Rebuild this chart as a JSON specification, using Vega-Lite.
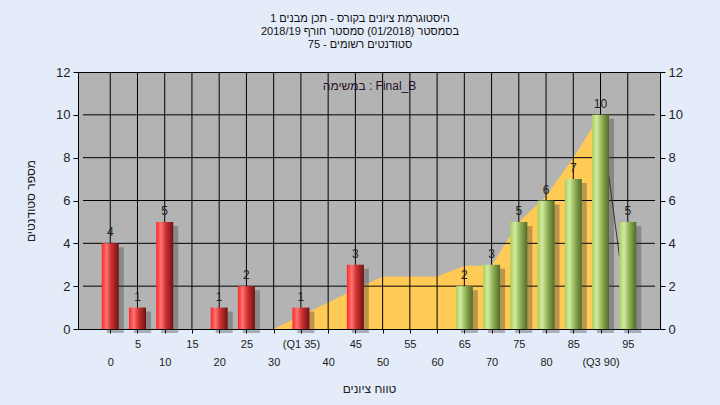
{
  "$schema": "https://vega.github.io/schema/vega-lite/v6.json",
  "width": 582,
  "height": 257,
  "autosize": {"type": "none"},
  "padding": {"left": 78, "top": 72, "right": 60, "bottom": 76},
  "background": "#e3ecf8",
  "config": {
    "view": {"fill": "#b3b3b3", "stroke": "#000000", "strokeWidth": 1},
    "font": "Liberation Sans",
    "axisX": {
      "grid": false,
      "ticks": true,
      "domain": true,
      "domainColor": "#000000",
      "tickColor": "#000000",
      "tickSize": 4,
      "labelFontSize": 11,
      "labelColor": "#222222",
      "labelPadding": 5,
      "labelLineHeight": 18,
      "labelOverlap": false,
      "labelFlush": false,
      "labelBound": false,
      "titleFontSize": 12,
      "titleFontWeight": "normal",
      "titleColor": "#222222",
      "titlePadding": 16
    }
  },
  "title": {
    "text": [
      "היסטוגרמת ציונים בקורס - תכן מבנים 1",
      "בסמסטר  (01/2018)  סמסטר חורף 2018/19",
      "סטודנטים רשומים - 75"
    ],
    "fontSize": 11,
    "fontWeight": "normal",
    "color": "#111111",
    "anchor": "middle",
    "dx": -9,
    "offset": 16,
    "lineHeight": 13
  },
  "datasets": {
    "bins": [
      {"score": 0, "count": 4},
      {"score": 5, "count": 1},
      {"score": 10, "count": 5},
      {"score": 15, "count": 0},
      {"score": 20, "count": 1},
      {"score": 25, "count": 2},
      {"score": 30, "count": 0},
      {"score": 35, "count": 1},
      {"score": 40, "count": 0},
      {"score": 45, "count": 3},
      {"score": 50, "count": 0},
      {"score": 55, "count": 0},
      {"score": 60, "count": 0},
      {"score": 65, "count": 2},
      {"score": 70, "count": 3},
      {"score": 75, "count": 5},
      {"score": 80, "count": 6},
      {"score": 85, "count": 7},
      {"score": 90, "count": 10},
      {"score": 95, "count": 5}
    ],
    "curve": [
      {"score": 30, "value": 0},
      {"score": 35, "value": 0.62},
      {"score": 40, "value": 1.24},
      {"score": 45, "value": 1.86},
      {"score": 50, "value": 2.45},
      {"score": 55, "value": 2.45},
      {"score": 60, "value": 2.45},
      {"score": 65, "value": 2.95},
      {"score": 70, "value": 2.95},
      {"score": 75, "value": 5.0},
      {"score": 80, "value": 6.2},
      {"score": 85, "value": 8.0},
      {"score": 90, "value": 10.0}
    ],
    "drop": [
      {"score": 91.2, "value": 7.76},
      {"score": 93.5, "value": 3.36}
    ]
  },
  "resolve": {"axis": {"y": "independent"}},
  "encoding": {
    "x": {
      "field": "score",
      "type": "quantitative",
      "scale": {"domain": [-5, 100], "nice": false, "zero": false},
      "axis": {
        "values": [0, 5, 10, 15, 20, 25, 30, 35, 40, 45, 50, 55, 60, 65, 70, 75, 80, 85, 90, 95],
        "labelExpr": "datum.value % 10 === 0 ? ['', datum.value == 90 ? '(Q3 90)' : datum.label] : [datum.value == 35 ? '(Q1 35)' : datum.label]",
        "labelOverlap": false,
        "title": "טווח ציונים"
      }
    }
  },
  "layer": [
    {
      "data": {"name": "curve"},
      "mark": {"type": "area", "color": "#ffca55", "opacity": 1},
      "encoding": {
        "y": {
          "field": "value",
          "type": "quantitative",
          "scale": {"domain": [0, 12], "nice": false},
          "axis": {
            "values": [0, 2, 4, 6, 8, 10, 12],
            "grid": false,
            "domain": false,
            "tickSize": 5,
            "tickColor": "#000000",
            "labelFontSize": 13,
            "labelColor": "#222222",
            "labelPadding": 3,
            "labelFlush": false,
            "labelBound": false,
            "title": "מספר סטודנטים",
            "titleFontSize": 12,
            "titleFontWeight": "normal",
            "titleColor": "#222222",
            "titlePadding": 18
          }
        }
      }
    },
    {
      "data": {"name": "bins"},
      "mark": {"type": "rule", "color": "#000000", "strokeWidth": 1},
      "encoding": {}
    },
    {
      "data": {"name": "bins"},
      "transform": [{"filter": "datum.score == 0"}],
      "mark": {"type": "rule", "color": "#000000", "strokeWidth": 1},
      "encoding": {
        "x": {"datum": -5, "type": "quantitative"},
        "x2": {"datum": 100},
        "y": {"datum": 2, "type": "quantitative", "axis": null}
      }
    },
    {
      "data": {"name": "bins"},
      "transform": [{"filter": "datum.score == 0"}],
      "mark": {"type": "rule", "color": "#000000", "strokeWidth": 1},
      "encoding": {
        "x": {"datum": -5, "type": "quantitative"},
        "x2": {"datum": 100},
        "y": {"datum": 4, "type": "quantitative", "axis": null}
      }
    },
    {
      "data": {"name": "bins"},
      "transform": [{"filter": "datum.score == 0"}],
      "mark": {"type": "rule", "color": "#000000", "strokeWidth": 1},
      "encoding": {
        "x": {"datum": -5, "type": "quantitative"},
        "x2": {"datum": 100},
        "y": {"datum": 6, "type": "quantitative", "axis": null}
      }
    },
    {
      "data": {"name": "bins"},
      "transform": [{"filter": "datum.score == 0"}],
      "mark": {"type": "rule", "color": "#000000", "strokeWidth": 1},
      "encoding": {
        "x": {"datum": -5, "type": "quantitative"},
        "x2": {"datum": 100},
        "y": {"datum": 8, "type": "quantitative", "axis": null}
      }
    },
    {
      "data": {"name": "bins"},
      "transform": [{"filter": "datum.score == 0"}],
      "mark": {"type": "rule", "color": "#000000", "strokeWidth": 1},
      "encoding": {
        "x": {"datum": -5, "type": "quantitative"},
        "x2": {"datum": 100},
        "y": {"datum": 10, "type": "quantitative", "axis": null}
      }
    },
    {
      "data": {"name": "drop"},
      "mark": {"type": "line", "color": "#333333", "strokeWidth": 1},
      "encoding": {
        "y": {"field": "value", "type": "quantitative", "axis": null}
      }
    },
    {
      "data": {"name": "bins"},
      "transform": [{"filter": "datum.count > 0"}],
      "mark": {"type": "bar", "width": 17, "xOffset": 5, "yOffset": 4, "color": "#3a3a3a", "opacity": 0.35},
      "encoding": {
        "y": {"field": "count", "type": "quantitative", "axis": null}
      }
    },
    {
      "data": {"name": "bins"},
      "transform": [{"filter": "datum.count > 0"}],
      "mark": {"type": "bar", "width": 17},
      "encoding": {
        "y": {
          "field": "count",
          "type": "quantitative",
          "axis": {
            "orient": "right",
            "values": [0, 2, 4, 6, 8, 10, 12],
            "grid": false,
            "domain": false,
            "tickSize": 5,
            "tickColor": "#000000",
            "labelFontSize": 13,
            "labelColor": "#222222",
            "labelPadding": 3,
            "labelFlush": false,
            "labelBound": false,
            "title": null
          }
        },
        "color": {
          "condition": {
            "test": "datum.score < 55",
            "value": {
              "gradient": "linear", "x1": 0, "x2": 1, "y1": 0, "y2": 0,
              "stops": [
                {"offset": 0, "color": "#ff2626"},
                {"offset": 0.28, "color": "#ff7474"},
                {"offset": 0.55, "color": "#d03232"},
                {"offset": 1, "color": "#701212"}
              ]
            }
          },
          "value": {
            "gradient": "linear", "x1": 0, "x2": 1, "y1": 0, "y2": 0,
            "stops": [
              {"offset": 0, "color": "#a8d05c"},
              {"offset": 0.28, "color": "#d2eaa0"},
              {"offset": 0.6, "color": "#8eae50"},
              {"offset": 1, "color": "#52692a"}
            ]
          }
        }
      }
    },
    {
      "data": {"name": "bins"},
      "transform": [{"filter": "datum.count > 0"}],
      "mark": {"type": "text", "fontSize": 12, "color": "#222222", "baseline": "alphabetic", "dy": -7},
      "encoding": {
        "y": {"field": "count", "type": "quantitative", "axis": null},
        "text": {"field": "count", "type": "quantitative"}
      }
    },
    {
      "data": {"name": "bins"},
      "transform": [{"filter": "datum.score == 0"}],
      "mark": {"type": "text", "fontSize": 12, "color": "#2a0f2a", "align": "center", "baseline": "middle"},
      "encoding": {
        "x": {"datum": 47.6, "type": "quantitative"},
        "y": {"datum": 11.35, "type": "quantitative", "axis": null},
        "text": {"value": "במשימה : Final_B"}
      }
    }
  ]
}
